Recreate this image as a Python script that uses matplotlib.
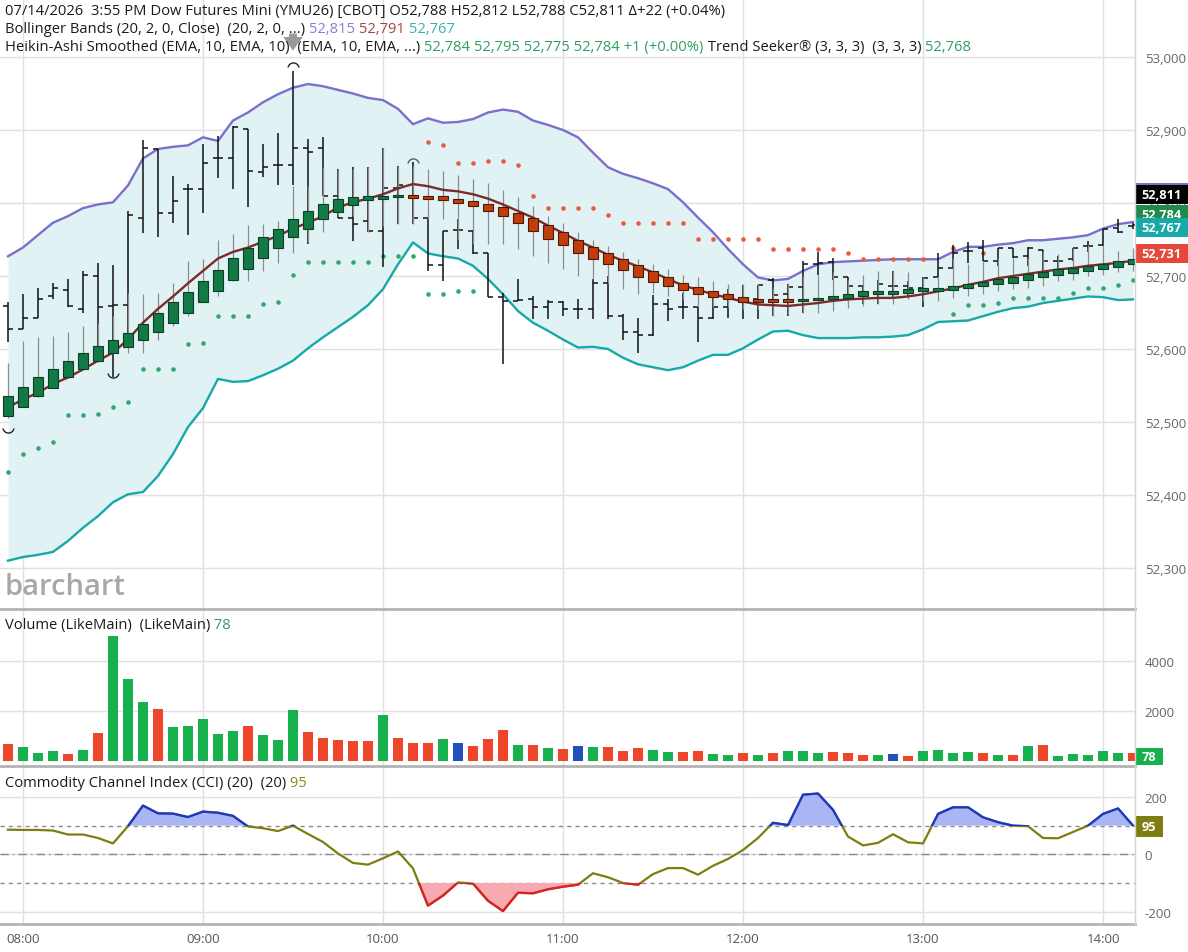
import numpy as np
import matplotlib
matplotlib.use("Agg")
import matplotlib.pyplot as plt
from matplotlib.lines import Line2D
from matplotlib.patches import Rectangle
from matplotlib.path import Path
from matplotlib.ticker import FuncFormatter
from matplotlib.transforms import blended_transform_factory

plt.rcParams['font.family'] = ['Open Sans', 'DejaVu Sans']
plt.rcParams['axes.unicode_minus'] = False

nan = np.nan

# 5 minute bars, 07:55 .. 14:10
hour_labels = ["08:00", "09:00", "10:00", "11:00", "12:00", "13:00", "14:00"]
hour_bar_idx = [1, 13, 25, 37, 49, 61, 73]

# price bars (OHLC)
bar_open = [52659, 52628, 52643, 52673, 52681, 52655, 52700, 52659, 52660, 52780,
            52874, 52786, 52819, 52819, 52861, 52861, 52902, 52843, 52852, 52852,
            52875, 52875, 52810, 52780, 52776, 52762, 52821, 52809, 52779, 52715,
            52763, 52762, 52732, 52671, 52666, 52669, 52658, 52665, 52655, 52655,
            52690, 52645, 52623, 52619, 52661, 52657, 52657, 52643, 52658, 52668,
            52668, 52695, 52675, 52685, 52716, 52719, 52699, 52686, 52675, 52686,
            52686, 52684, 52698, 52711, 52734, 52739, 52721, 52739, 52727, 52735,
            52721, 52723, 52741, 52742, 52766, 52768]
bar_high = [52665, 52675, 52683, 52691, 52696, 52707, 52718, 52715, 52789, 52886,
            52874, 52837, 52826, 52881, 52892, 52906, 52902, 52881, 52896, 52981,
            52888, 52890, 52846, 52849, 52849, 52875, 52851, 52856, 52779, 52762,
            52778, 52763, 52732, 52677, 52696, 52673, 52667, 52666, 52668, 52696,
            52700, 52648, 52643, 52674, 52668, 52677, 52657, 52680, 52682, 52688,
            52688, 52697, 52689, 52721, 52733, 52725, 52699, 52686, 52695, 52707,
            52693, 52699, 52732, 52743, 52746, 52750, 52739, 52739, 52740, 52735,
            52727, 52739, 52748, 52765, 52778, 52772]
bar_low = [52609, 52627, 52642, 52668, 52658, 52650, 52600, 52561, 52618, 52759,
           52754, 52772, 52756, 52787, 52834, 52819, 52795, 52835, 52824, 52824,
           52744, 52810, 52780, 52748, 52760, 52712, 52771, 52771, 52707, 52693,
           52737, 52730, 52671, 52579, 52666, 52641, 52641, 52645, 52641, 52641,
           52641, 52613, 52595, 52618, 52639, 52641, 52609, 52641, 52643, 52641,
           52641, 52645, 52645, 52650, 52702, 52695, 52666, 52661, 52661, 52670,
           52673, 52657, 52698, 52711, 52718, 52721, 52714, 52725, 52714, 52705,
           52711, 52721, 52733, 52741, 52759, 52764]
bar_close = [52627, 52642, 52668, 52683, 52659, 52702, 52657, 52660, 52783, 52876,
             52786, 52803, 52819, 52855, 52861, 52904, 52844, 52850, 52852, 52876,
             52870, 52810, 52780, 52771, 52762, 52821, 52824, 52780, 52715, 52762,
             52763, 52732, 52671, 52666, 52667, 52658, 52664, 52655, 52655, 52690,
             52645, 52623, 52619, 52661, 52655, 52657, 52643, 52658, 52668, 52668,
             52687, 52674, 52685, 52716, 52718, 52699, 52686, 52675, 52689, 52686,
             52684, 52697, 52711, 52732, 52734, 52721, 52739, 52726, 52739, 52721,
             52721, 52739, 52741, 52765, 52760, 52770]

# Heikin-Ashi smoothed candles
ha_open = [52508, 52521, 52535, 52547, 52561, 52573, 52584, 52594, 52603, 52613,
           52623, 52636, 52650, 52665, 52679, 52694, 52709, 52724, 52739, 52753,
           52765, 52778, 52788, 52797, 52804, 52806, 52808, 52811, 52810, 52809,
           52806, 52803, 52799, 52794, 52787, 52779, 52770, 52760, 52750, 52740,
           52731, 52723, 52715, 52707, 52698, 52691, 52685, 52680, 52675, 52671,
           52669, 52668, 52668, 52666, 52667, 52668, 52670, 52673, 52675, 52676,
           52677, 52679, 52679, 52681, 52683, 52686, 52689, 52691, 52695, 52698,
           52701, 52704, 52707, 52710, 52713, 52716]
ha_close = [52536, 52548, 52561, 52573, 52584, 52595, 52604, 52613, 52622, 52634,
            52649, 52664, 52678, 52693, 52708, 52724, 52739, 52753, 52765, 52778,
            52789, 52798, 52805, 52808, 52810, 52810, 52811, 52807, 52806, 52804,
            52800, 52796, 52789, 52782, 52772, 52762, 52751, 52742, 52732, 52723,
            52716, 52708, 52699, 52692, 52686, 52681, 52676, 52671, 52668, 52665,
            52664, 52665, 52665, 52668, 52670, 52673, 52676, 52679, 52679, 52680,
            52682, 52683, 52684, 52686, 52689, 52692, 52696, 52699, 52703, 52706,
            52709, 52711, 52714, 52717, 52720, 52723]
ha_high = [52581, 52611, 52617, 52618, 52623, 52632, 52636, 52645, 52677, 52675,
           52677, 52691, 52721, 52723, 52750, 52757, 52770, 52771, 52776, 52823,
           52823, 52849, 52846, 52846, 52850, 52875, 52851, 52851, 52846, 52844,
           52838, 52833, 52827, 52818, 52808, 52796, 52782, 52773, 52760, 52750,
           52741, 52733, 52723, 52716, 52709, 52702, 52698, 52693, 52689, 52689,
           52689, 52684, 52690, 52700, 52702, 52705, 52695, 52702, 52707, 52707,
           52705, 52698, 52698, 52725, 52716, 52721, 52725, 52725, 52725, 52734,
           52730, 52739, 52743, 52743, 52734, 52739]
ha_low = [52506, 52520, 52534, 52547, 52560, 52572, 52582, 52593, 52595, 52595,
          52613, 52632, 52645, 52664, 52673, 52693, 52693, 52707, 52718, 52732,
          52746, 52760, 52782, 52782, 52760, 52769, 52771, 52771, 52778, 52778,
          52750, 52744, 52744, 52744, 52737, 52728, 52718, 52709, 52700, 52696,
          52691, 52682, 52675, 52677, 52673, 52668, 52659, 52657, 52657, 52655,
          52655, 52645, 52648, 52650, 52650, 52652, 52656, 52659, 52661, 52661,
          52668, 52666, 52666, 52670, 52673, 52675, 52679, 52682, 52684, 52686,
          52693, 52695, 52700, 52702, 52705, 52707]

# Bollinger Bands (20, 2)
bb_upper = [52727, 52739, 52756, 52773, 52782, 52793, 52798, 52801, 52824, 52861,
            52874, 52877, 52879, 52890, 52885, 52913, 52924, 52938, 52949, 52958,
            52963, 52960, 52955, 52950, 52944, 52941, 52929, 52908, 52916, 52910,
            52911, 52915, 52924, 52928, 52925, 52913, 52907, 52900, 52890, 52869,
            52849, 52840, 52834, 52827, 52819, 52801, 52780, 52760, 52737, 52716,
            52698, 52694, 52696, 52707, 52716, 52719, 52720, 52721, 52722, 52723,
            52723, 52723, 52723, 52733, 52740, 52740, 52743, 52745, 52749, 52749,
            52751, 52753, 52756, 52765, 52771, 52774]
bb_mid = [52520, 52531, 52540, 52552, 52561, 52572, 52584, 52595, 52613, 52636,
          52655, 52672, 52690, 52707, 52724, 52733, 52739, 52747, 52755, 52765,
          52773, 52782, 52794, 52801, 52806, 52812, 52820, 52826, 52823, 52818,
          52816, 52812, 52806, 52798, 52789, 52780, 52769, 52759, 52748, 52739,
          52729, 52721, 52713, 52705, 52696, 52687, 52681, 52675, 52670, 52665,
          52661, 52660, 52659, 52661, 52663, 52666, 52668, 52669, 52670, 52670,
          52672, 52675, 52679, 52683, 52688, 52692, 52697, 52700, 52703, 52706,
          52709, 52711, 52714, 52716, 52718, 52721]
bb_lower = [52310, 52315, 52318, 52322, 52337, 52355, 52371, 52390, 52401, 52404,
            52426, 52456, 52493, 52519, 52559, 52555, 52556, 52564, 52573, 52584,
            52601, 52616, 52630, 52644, 52660, 52682, 52716, 52746, 52731, 52727,
            52724, 52714, 52696, 52675, 52652, 52636, 52625, 52613, 52602, 52603,
            52600, 52588, 52579, 52575, 52571, 52575, 52584, 52592, 52592, 52601,
            52613, 52624, 52625, 52619, 52615, 52615, 52615, 52616, 52616, 52617,
            52619, 52627, 52637, 52638, 52639, 52645, 52651, 52656, 52658, 52663,
            52666, 52669, 52672, 52671, 52667, 52668]

# Trend Seeker stops (green below price, red above)
ts_green = [52431, 52456, 52464, 52473, 52509, 52509, 52511, 52521, 52527, 52573,
            52573, 52573, 52607, 52608, 52645, 52645, 52645, 52662, 52664, 52702,
            52719, 52719, 52719, 52719, 52719, 52727, 52727, 52727, 52675, 52675,
            52680, 52680, nan, nan, nan, nan, nan, nan, nan, nan,
            nan, nan, nan, nan, nan, nan, nan, nan, nan, nan,
            nan, nan, nan, nan, nan, nan, nan, nan, nan, nan,
            nan, nan, nan, 52648, 52660, 52660, 52663, 52670, 52670, 52670,
            52670, 52677, 52684, 52684, 52687, 52695]
ts_red = [nan, nan, nan, nan, nan, nan, nan, nan, nan, nan,
          nan, nan, nan, nan, nan, nan, nan, nan, nan, nan,
          nan, nan, nan, nan, nan, nan, nan, nan, 52883, 52879,
          52855, 52855, 52858, 52858, 52852, 52810, 52793, 52793, 52793, 52793,
          52783, 52772, 52772, 52772, 52772, 52772, 52751, 52751, 52751, 52751,
          52751, 52737, 52737, 52737, 52737, 52737, 52731, 52723, 52723, 52723,
          52723, 52723, nan, 52739, nan, 52732, nan, nan, nan, nan,
          nan, nan, nan, nan, nan, nan]

# swing markers
swing_low_idx = [0, 7]
swing_low_val = [52493, 52568]
swing_high_idx = [19, 27]
swing_high_val = [52985, 52853]

volume = [693, 560, 333, 387, 293, 427, 1120, 5000, 3293, 2373,
          2067, 1360, 1387, 1680, 1067, 1213, 1400, 1040, 853, 2027,
          1160, 907, 853, 800, 800, 1853, 933, 720, 733, 880,
          707, 613, 880, 1253, 653, 627, 520, 467, 613, 573,
          547, 400, 507, 427, 360, 347, 400, 293, 227, 307,
          227, 307, 400, 400, 320, 347, 333, 253, 227, 293,
          200, 400, 427, 320, 360, 307, 253, 253, 600, 627,
          200, 293, 240, 400, 333, 307]
volume_dir = list("rgggrgrggg" "rgggggrggg" "rrrrrgrrrg" "brrrgrgrbg"
                  "rrrggrrggr" "grgggrrrgb" "rggggrgrgr" "ggggg" "r")

cci = [86, 85, 85, 83, 69, 69, 57, 38, 98, 170,
       143, 142, 130, 149, 145, 134, 97, 91, 81, 100,
       71, 43, 3, -30, -36, -14, 10, -49, -179, -144,
       -98, -102, -162, -198, -134, -136, -122, -113, -106, -66,
       -80, -100, -106, -69, -48, -48, -71, -40, -16, 15,
       57, 110, 102, 208, 212, 155, 62, 31, 40, 70,
       42, 38, 141, 164, 164, 129, 112, 100, 98, 57,
       56, 78, 100, 141, 160, 100]

# last values shown on the price scale, in drawing order
badge_vals = [(52815, "#7b6fcc"), (52784, "#1f8a4c"), (52811, "#000000"),
              (52767, "#17a8a8"), (52731, "#e5473a")]

x = np.arange(len(bar_close))
bo, bh, bl, bc = map(np.array, (bar_open, bar_high, bar_low, bar_close))
ho, hc, hh, hl = map(np.array, (ha_open, ha_close, ha_high, ha_low))
cci = np.array(cci, dtype=float)

W, H = 1188, 953
fig = plt.figure(figsize=(W / 100, H / 100), dpi=100)
right = 1135 / W


def panel(top, bottom, **kw):
    return fig.add_axes([0, 1 - bottom / H, right, (bottom - top) / H], **kw)


ax_p = panel(0, 610)
ax_v = panel(610, 767, sharex=ax_p)
ax_c = panel(767, 925, sharex=ax_p)

grid_c = "#e0e0e0"
for ax in (ax_p, ax_v, ax_c):
    for s in ax.spines.values():
        s.set_visible(False)
    ax.yaxis.tick_right()
    ax.tick_params(axis="y", length=0, pad=7, labelcolor="#666666", labelsize=9.5)
    ax.tick_params(axis="x", length=0, pad=6, labelcolor="#555555", labelsize=9.5)
    ax.set_xticks(hour_bar_idx)
    ax.grid(True, color=grid_c, lw=1)
    ax.set_axisbelow(True)
ax_p.tick_params(axis="x", labelbottom=False)
ax_v.tick_params(axis="x", labelbottom=False)
ax_c.set_xticklabels(hour_labels)
ax_p.set_xlim(-0.53, 75.13)

# ---- price panel ----
ax_p.set_ylim(52243.8, 53079.5)
ax_p.set_yticks(np.arange(52300, 53001, 100))
ax_p.yaxis.set_major_formatter(FuncFormatter(lambda v, _: f"{v:,.0f}"))

ax_p.fill_between(x, bb_lower, bb_upper, color="#e1f2f5", lw=0, zorder=1)
ax_p.plot(x, bb_upper, color="#7b6fcc", lw=1.7, zorder=2)
ax_p.plot(x, bb_lower, color="#17a8a8", lw=1.7, zorder=2)

ax_p.plot(x, ts_green, "o", ms=3.3, color="#33a86c", mec="none", zorder=3)
ax_p.plot(x, ts_red, "o", ms=3.3, color="#ea5a40", mec="none", zorder=3)

# OHLC bars
ax_p.vlines(x, bl, bh, color="#111111", lw=1.1, zorder=4)
ax_p.hlines(bo, x - 0.33, x, color="#111111", lw=1.1, zorder=4)
ax_p.hlines(bc, x, x + 0.33, color="#111111", lw=1.1, zorder=4)

# Heikin-Ashi smoothed
up = hc >= ho
ax_p.vlines(x, hl, hh, color="#8c8c8c", lw=0.9, zorder=4)
ax_p.plot(x, bb_mid, color="#7a2b2b", lw=1.7, zorder=5)
body_lo = np.minimum(ho, hc)
body_h = np.maximum(np.abs(hc - ho), 2.5)
ax_p.bar(x[up], body_h[up], bottom=body_lo[up], width=0.66,
         color="#137a45", edgecolor="#0b3f24", lw=0.8, zorder=6)
ax_p.bar(x[~up], body_h[~up], bottom=body_lo[~up], width=0.66,
         color="#c23d0c", edgecolor="#4e1804", lw=0.8, zorder=6)

arc_low = Path.arc(190, 350)
arc_high = Path.arc(10, 170)
ax_p.plot(swing_low_idx, swing_low_val, ls="none", marker=arc_low, ms=8,
          mfc="none", mec="#222222", mew=1.0, zorder=7)
ax_p.plot(swing_high_idx[:1], swing_high_val[:1], ls="none", marker=arc_high, ms=8,
          mfc="none", mec="#222222", mew=1.0, zorder=7)
ax_p.plot(swing_high_idx[1:], swing_high_val[1:], ls="none", marker=arc_high, ms=8,
          mfc="none", mec="#2d7070", mew=1.0, zorder=7)
ax_p.annotate("", xy=(19, 53005), xytext=(19, 53036),
              arrowprops=dict(arrowstyle="simple,head_width=1.0,head_length=0.7,tail_width=0.4",
                              color="#9a9a9a", lw=0, mutation_scale=14), zorder=7)

ax_p.text(5 / 1135, 8 / 610, "barchart", transform=ax_p.transAxes, fontsize=21,
          color="#a8a8a8", fontweight="semibold", ha="left", va="bottom", zorder=3)

# ---- volume panel ----
vol_cols = {"g": "#16b14c", "r": "#ef462b", "b": "#2250bd"}
ax_v.set_ylim(-200, 6080)
ax_v.set_yticks([2000, 4000])
ax_v.bar(x, volume, width=0.64, color=[vol_cols[c] for c in volume_dir], zorder=3)

# ---- CCI panel ----
ax_c.set_ylim(-243, 308)
ax_c.set_yticks([-200, 0, 200])
ax_c.axhline(100, color="#8a8a8a", lw=1, ls=(0, (3, 3)), zorder=2)
ax_c.axhline(-100, color="#8a8a8a", lw=1, ls=(0, (3, 3)), zorder=2)
ax_c.axhline(0, color="#8a8a8a", lw=1, ls=(0, (6, 3, 1, 3)), zorder=2)
ax_c.fill_between(x, cci, 100, where=cci > 100, interpolate=True,
                  color="#a9b6f6", lw=0, zorder=3)
ax_c.fill_between(x, cci, -100, where=cci < -100, interpolate=True,
                  color="#f8aab0", lw=0, zorder=3)
ax_c.plot(x, cci, color="#7d7d10", lw=1.6, zorder=4)
hi_line = ax_c.plot(x, cci, color="#1a35d0", lw=1.6, zorder=5)[0]
hi_line.set_clip_path(Rectangle((-5, 100), 100, 1000, transform=ax_c.transData))
lo_line = ax_c.plot(x, cci, color="#dd1f2a", lw=1.6, zorder=5)[0]
lo_line.set_clip_path(Rectangle((-5, -1100), 100, 1000, transform=ax_c.transData))

# ---- separators ----
for yy in (610, 767, 925):
    fig.add_artist(Line2D([0, right], [1 - yy / H] * 2, transform=fig.transFigure,
                          color="#b4b4b4", lw=2))
fig.add_artist(Line2D([right, right], [1 - 925 / H, 1], transform=fig.transFigure,
                      color="#d4d4d4", lw=1))


# ---- badges on the right scale ----
def badge(ax, yc, label, fc, hpx, wpx=53, z=20):
    tr = blended_transform_factory(ax.transAxes, ax.transData)
    y0, y1 = ax.get_ylim()
    ax_h = ax.get_position().height * H
    hd = hpx * (y1 - y0) / ax_h
    wa = wpx / 1135
    ax.add_patch(Rectangle((1.0, yc - hd / 2), wa, hd, transform=tr, fc=fc, ec="none",
                           clip_on=False, zorder=z))
    ax.text(1.0 + wa / 2, yc, label, transform=tr, ha="center", va="center",
            color="white", fontsize=9.2, fontweight="bold", clip_on=False, zorder=z + 1)


for k, (val, col) in enumerate(badge_vals):
    badge(ax_p, val, f"{val:,}", col, 19, z=20 + 2 * k)
badge(ax_v, 180, "78", "#16b14c", 17, 28)
badge(ax_c, 98, "95", "#7d7d10", 21, 28)

# ---- header lines ----
renderer = fig.canvas.get_renderer()


def put_line(x0, ybase, parts, size=10.6):
    xx = x0
    for s, c in parts:
        t = fig.text(xx / W, 1 - ybase / H, s, color=c, fontsize=size,
                     ha="left", va="baseline")
        xx += t.get_window_extent(renderer).width


txt = "#1a1a1a"
put_line(5, 15, [("07/14/2026  3:55 PM Dow Futures Mini (YMU26) [CBOT] O52,788 H52,812 "
                  "L52,788 C52,811 \u0394+22 (+0.04%)", txt)])
put_line(5, 33, [("Bollinger Bands (20, 2, 0, Close)  (20, 2, 0, ...)", txt),
                 (" 52,815", "#8a7dd0"), (" 52,791", "#a2443e"), (" 52,767", "#37b2b2")])
put_line(5, 51, [("Heikin-Ashi Smoothed (EMA, 10, EMA, 10)  (EMA, 10, EMA, ...)", txt),
                 (" 52,784 52,795 52,775 52,784 +1 (+0.00%)", "#2f9e62"),
                 (" Trend Seeker\u00ae (3, 3, 3)  (3, 3, 3)", txt),
                 (" 52,768", "#2f9e62")])
put_line(5, 629, [("Volume (LikeMain)  (LikeMain)", txt), (" 78", "#2f9e62")])
put_line(5, 787, [("Commodity Channel Index (CCI) (20)  (20)", txt), (" 95", "#8a8a10")])

fig.savefig("out.png", dpi=100, facecolor="white")
